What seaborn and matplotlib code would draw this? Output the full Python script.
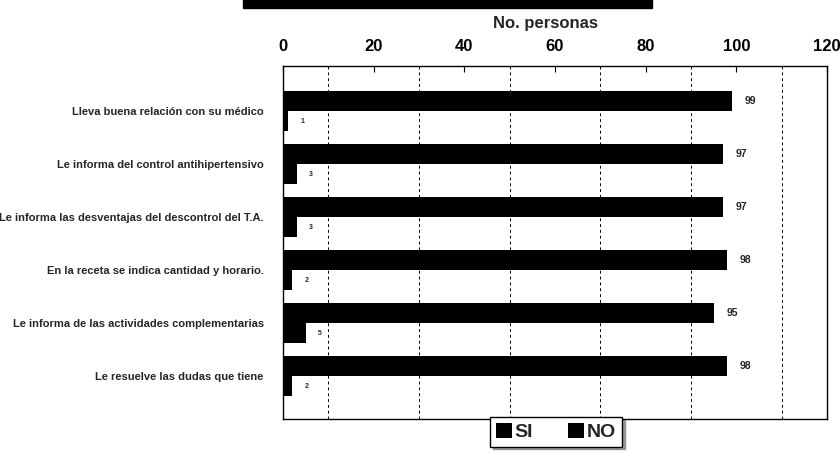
import pandas as pd
import matplotlib
matplotlib.use('Agg')
import matplotlib.pyplot as plt
import seaborn as sns
from matplotlib.patches import Rectangle

# datos
preguntas = ['Lleva buena relación con su médico',
             'Le informa del control antihipertensivo',
             'Le informa las desventajas del descontrol del T.A.',
             'En la receta se indica cantidad y horario.',
             'Le informa de las actividades complementarias',
             'Le resuelve las dudas que tiene']
si = [99, 97, 97, 98, 95, 98]
no = [1, 3, 3, 2, 5, 2]
x_ticks = [0, 20, 40, 60, 80, 100, 120]

df = pd.DataFrame({'pregunta': preguntas * 2,
                   'respuesta': ['SI'] * len(si) + ['NO'] * len(no),
                   'personas': si + no})

sns.set_style('white')
plt.rcParams['font.family'] = ['Liberation Sans', 'DejaVu Sans']

fig = plt.figure(figsize=(8.4, 4.54), dpi=100)
ax = fig.add_axes([0.337, 0.077, 0.6475, 0.7775])

sns.barplot(data=df, y='pregunta', x='personas', hue='respuesta',
            palette={'SI': 'black', 'NO': 'black'}, width=0.755, gap=0,
            edgecolor='black', linewidth=0, ax=ax, legend=False)

# etiquetas de valores
ax.bar_label(ax.containers[0], padding=9, fontsize=7.5, fontweight='bold')
ax.bar_label(ax.containers[1], padding=9, fontsize=5, fontweight='bold')

ax.set_xlim(0, 120)
ax.set_ylim(5.81, -0.85)
ax.xaxis.tick_top()
ax.set_xticks(x_ticks)
ax.set_xticks([10, 30, 50, 70, 90, 110], minor=True)
ax.tick_params(axis='x', which='major', direction='in', length=4, width=0.8,
               pad=9, labelsize=12, colors='black')
ax.tick_params(axis='x', which='minor', length=0)
ax.tick_params(axis='y', length=0, pad=14, labelsize=8)
for t in ax.get_xticklabels() + ax.get_yticklabels():
    t.set_fontweight('bold')
ax.grid(which='minor', axis='x', color='black', linestyle=(0, (3, 3)), linewidth=0.7)
ax.set_axisbelow(True)

ax.set_ylabel('')
ax.set_xlabel('No. personas', fontsize=12, fontweight='bold')
ax.xaxis.set_label_position('top')
ax.xaxis.set_label_coords(0.482, 1.108)

for s in ax.spines.values():
    s.set_visible(True)
    s.set_color('black')
    s.set_linewidth(1)

# leyenda
ax.legend(handles=[ax.containers[0], ax.containers[1]], labels=['SI', 'NO'],
          ncol=2, loc='center', bbox_to_anchor=(0.662, 0.049),
          bbox_transform=fig.transFigure, frameon=True,
          prop={'size': 14, 'weight': 'bold'},
          fancybox=False, shadow=True, edgecolor='black', framealpha=1,
          handlelength=0.8, handleheight=0.8, handletextpad=0.15,
          columnspacing=1.8, borderpad=0.3)

# barra negra del titulo (recortado en el original)
fig.add_artist(Rectangle((0.289, 0.982), 0.487, 0.02, transform=fig.transFigure,
                         color='black', clip_on=False))

fig.savefig('out.png', dpi=100, facecolor='white')
